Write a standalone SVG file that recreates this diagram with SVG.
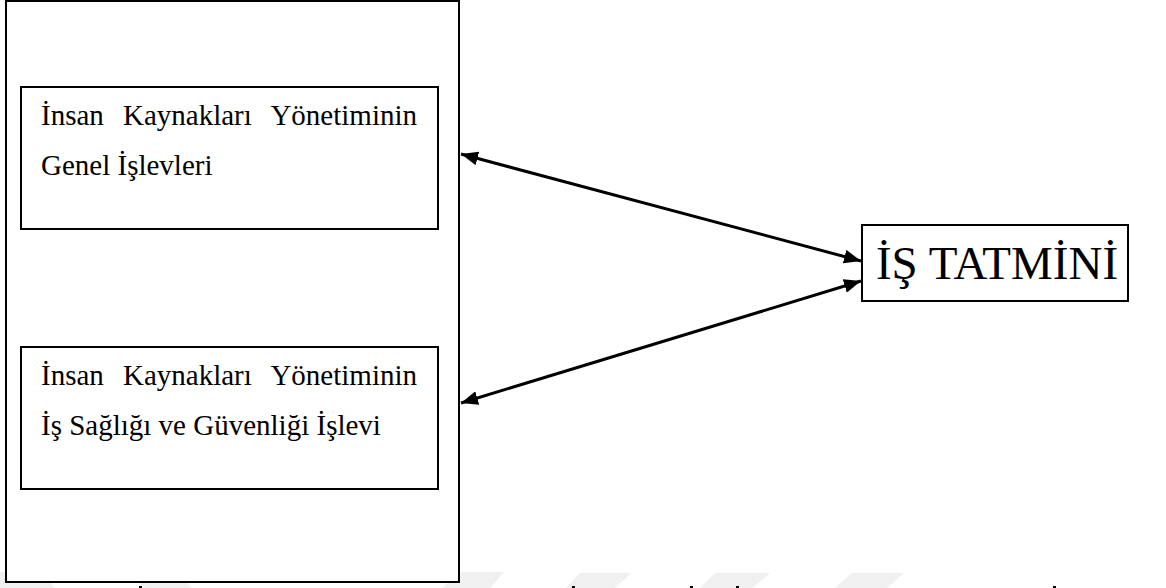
<svg xmlns="http://www.w3.org/2000/svg" width="1166" height="588" viewBox="0 0 1166 588">
  <defs>
    <marker id="arr" markerUnits="userSpaceOnUse" markerWidth="17" markerHeight="14" viewBox="0 0 17 14" refX="17" refY="7" orient="auto-start-reverse">
      <path d="M0,0 L17,7 L0,14 Z" fill="#000"/>
    </marker>
  </defs>
  <style>
    .box { fill: #fff; stroke: #000; stroke-width: 2; }
    .t { font-family: "Liberation Serif", "Times New Roman", serif; font-size: 29px; fill: #000; }
    .big { font-family: "Liberation Serif", "Times New Roman", serif; font-size: 47px; fill: #000; }
    .conn { stroke: #000; stroke-width: 3; fill: none; }
    .wm { fill: #f0f0f0; }
  </style>
  <rect width="1166" height="588" fill="#fff"/>
  <g id="watermark">
    <polygon class="wm" points="0,572 40,572 55,588 0,588"/>
    <polygon class="wm" points="127,572 175,572 192,588 145,588"/>
    <polygon class="wm" points="462,572 504,572 490,588 442,588"/>
    <polygon class="wm" points="580,573 631,573 615,588 566,588"/>
    <polygon class="wm" points="715,573 770,573 752,588 700,588"/>
    <polygon class="wm" points="852,573 904,573 887,588 835,588"/>
  </g>
  <g id="outer">
    <rect class="box" x="6" y="1" width="453" height="581"/>
  </g>
  <g id="node-genel">
    <rect class="box" x="21" y="87" width="417" height="142"/>
    <text class="t" y="125"><tspan x="41">İnsan</tspan><tspan x="123">Kaynakları</tspan><tspan x="417" text-anchor="end">Yönetiminin</tspan></text>
    <text class="t" x="41" y="175">Genel İşlevleri</text>
  </g>
  <g id="node-isg">
    <rect class="box" x="21" y="347" width="417" height="142"/>
    <text class="t" y="385"><tspan x="41">İnsan</tspan><tspan x="123">Kaynakları</tspan><tspan x="417" text-anchor="end">Yönetiminin</tspan></text>
    <text class="t" x="41" y="435">İş Sağlığı ve Güvenliği İşlevi</text>
  </g>
  <g id="node-tatmin">
    <rect class="box" x="862" y="225" width="266" height="76"/>
    <text class="big" x="997" y="279" text-anchor="middle">İŞ TATMİNİ</text>
  </g>
  <g id="connectors">
    <line class="conn" x1="861" y1="261" x2="461" y2="154" marker-start="url(#arr)" marker-end="url(#arr)"/>
    <line class="conn" x1="861" y1="281" x2="461" y2="403" marker-start="url(#arr)" marker-end="url(#arr)"/>
  </g>
  <g id="fragments" fill="#000">
    <rect x="139" y="586" width="3" height="2"/>
    <rect x="572" y="586" width="3" height="2"/>
    <rect x="690" y="586" width="3" height="2"/>
    <rect x="736" y="586" width="3" height="2"/>
    <rect x="1053" y="586" width="3" height="2"/>
  </g>
</svg>
